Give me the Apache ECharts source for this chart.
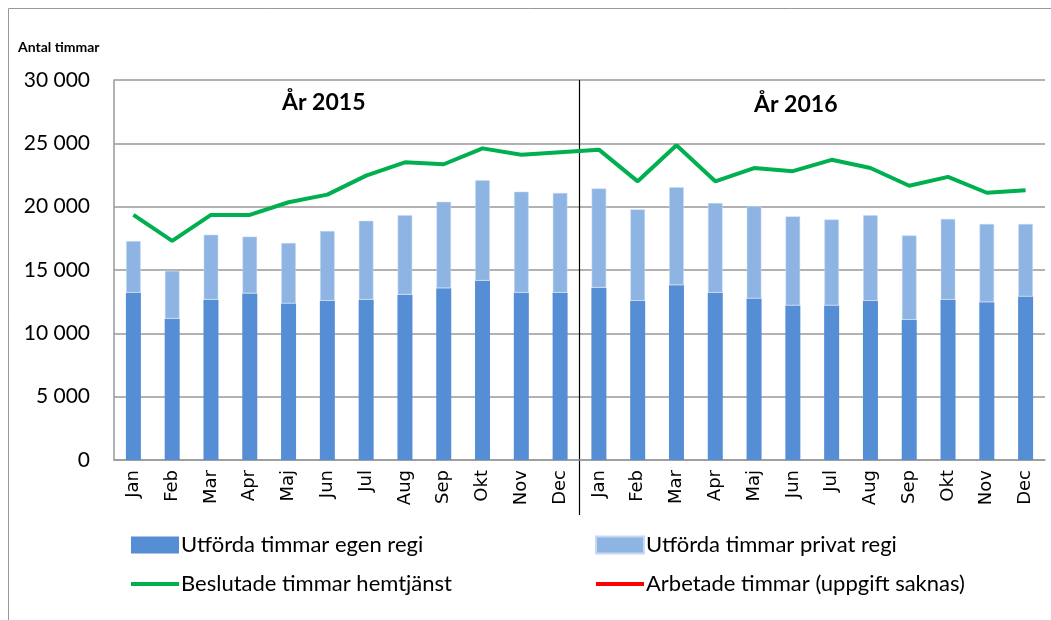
<!DOCTYPE html>
<html>
<head>
<meta charset="utf-8">
<title>Antal timmar hemtjänst</title>
<script src="https://cdn.jsdelivr.net/npm/echarts@6/dist/echarts.min.js"></script>
<style>
    html, body { margin: 0; padding: 0; background: #fff; }
    #main { width: 1051px; height: 620px; }
</style>
</head>
<body>
<div id="main"></div>
<script type="text/javascript">
    // månader, 2015 + 2016
    var months = ['Jan','Feb','Mar','Apr','Maj','Jun','Jul','Aug','Sep','Okt','Nov','Dec',
                  'Jan','Feb','Mar','Apr','Maj','Jun','Jul','Aug','Sep','Okt','Nov','Dec'];

    // utförda timmar egen regi
    var egenRegi = [13200, 11150, 12650, 13150, 12350, 12550, 12650, 13050, 13550, 14150, 13200, 13200,
                    13600, 12550, 13800, 13200, 12750, 12200, 12200, 12550, 11050, 12650, 12450, 12900];

    // utförda timmar totalt (egen + privat), privat räknas ut nedan
    var totalUtford = [17300, 14950, 17800, 17650, 17150, 18100, 18900, 19350, 20400, 22100, 21200, 21100,
                       21450, 19800, 21550, 20300, 20050, 19250, 19000, 19350, 17750, 19050, 18650, 18650];

    // beslutade timmar hemtjänst
    var beslutade = [19350, 17300, 19350, 19350, 20350, 20950, 22450, 23500, 23350, 24600, 24100, 24300,
                     24500, 22000, 24850, 22000, 23050, 22800, 23700, 23050, 21650, 22350, 21100, 21300];

    // arbetade timmar - uppgift saknas
    var arbetade = [];

    var privatRegi = totalUtford.map(function (t, i) { return t - egenRegi[i]; });

    var yTicks = [0, 5000, 10000, 15000, 20000, 25000, 30000];

    var font = 'Lato, "Open Sans", sans-serif';
    var lineIcon = 'path://M0,0H48V4H0Z';

    function fmt(v) {
        return String(v).replace(/\B(?=(\d{3})+(?!\d))/g, ' ');
    }

    var myChart = echarts.init(document.getElementById('main'));

    var option = {
        animation: false,
        backgroundColor: '#fff',
        grid: { left: 114, right: 6, top: 80, bottom: 160 },
        title: [
            { text: 'Antal timmar', left: 13, top: 35,
              textStyle: { fontFamily: font, fontSize: 14, fontWeight: 'bold', color: '#000' } },
            { text: 'År 2015', left: 277, top: 86,
              textStyle: { fontFamily: font, fontSize: 23, fontWeight: 'bold', color: '#000' } },
            { text: 'År 2016', left: 749, top: 88,
              textStyle: { fontFamily: font, fontSize: 23, fontWeight: 'bold', color: '#000' } }
        ],
        legend: [
            {
                orient: 'vertical', left: 126, top: 529, itemGap: 17,
                itemWidth: 48, itemHeight: 17,
                textStyle: { fontFamily: font, fontSize: 22, color: '#000', padding: [0, 0, 0, -3] },
                data: [
                    { name: 'Utförda timmar egen regi', icon: 'rect' },
                    { name: 'Beslutade timmar hemtjänst', icon: lineIcon }
                ]
            },
            {
                orient: 'vertical', left: 590, top: 529, itemGap: 17,
                itemWidth: 48, itemHeight: 17,
                textStyle: { fontFamily: font, fontSize: 22, color: '#000', padding: [0, 0, 0, -3] },
                data: [
                    { name: 'Utförda timmar privat regi', icon: 'rect' },
                    { name: 'Arbetade timmar (uppgift saknas)', icon: lineIcon }
                ]
            }
        ],
        xAxis: {
            type: 'category',
            data: months,
            axisLine: { lineStyle: { color: '#999', width: 1.5 } },
            axisTick: { show: false },
            axisLabel: {
                interval: 0,
                rotate: 90,
                margin: 10,
                fontFamily: '"DejaVu Sans", Verdana, sans-serif',
                fontSize: 18,
                color: '#000'
            }
        },
        yAxis: {
            type: 'value',
            min: 0, max: 30000, interval: 5000,
            axisLine: { show: true, lineStyle: { color: '#999', width: 1.5 } },
            axisTick: { show: false },
            splitLine: { lineStyle: { color: '#999', width: 1.5 } },
            axisLabel: {
                margin: 24,
                fontFamily: font,
                fontSize: 21,
                color: '#000',
                formatter: function (v) { return fmt(v); }
            }
        },
        series: [
            {
                name: 'Utförda timmar egen regi',
                type: 'bar',
                stack: 'utford',
                barWidth: 15,
                itemStyle: { color: '#558ed5' },
                data: egenRegi
            },
            {
                name: 'Utförda timmar privat regi',
                type: 'bar',
                stack: 'utford',
                barWidth: 15,
                itemStyle: { color: '#8eb4e3', borderColor: '#c6d9f1', borderWidth: 1, borderType: 'dotted' },
                data: privatRegi
            },
            {
                name: 'Beslutade timmar hemtjänst',
                type: 'line',
                symbol: 'none',
                lineStyle: { color: '#00b050', width: 4 },
                itemStyle: { color: '#00b050' },
                data: beslutade
            },
            {
                name: 'Arbetade timmar (uppgift saknas)',
                type: 'line',
                symbol: 'none',
                lineStyle: { color: '#ff0000', width: 4 },
                itemStyle: { color: '#ff0000' },
                data: arbetade
            }
        ]
    };

    myChart.setOption(option);

    // skiljelinje mellan åren + ram
    var xDec = myChart.convertToPixel({ xAxisIndex: 0 }, 11);
    var xJan = myChart.convertToPixel({ xAxisIndex: 0 }, 12);
    var xSep = (xDec + xJan) / 2;
    var yTop = myChart.convertToPixel({ yAxisIndex: 0 }, yTicks[yTicks.length - 1]);
    var yBottom = myChart.convertToPixel({ yAxisIndex: 0 }, yTicks[0]);

    myChart.setOption({
        graphic: [
            { type: 'line', shape: { x1: xSep, y1: yTop, x2: xSep, y2: yBottom + 55 },
              style: { stroke: '#000', lineWidth: 1.2 } },
            { type: 'line', shape: { x1: 8.5, y1: 8.5, x2: 1051, y2: 8.5 },
              style: { stroke: '#999', lineWidth: 1 } },
            { type: 'line', shape: { x1: 8.5, y1: 8.5, x2: 8.5, y2: 620 },
              style: { stroke: '#999', lineWidth: 1 } }
        ]
    });
</script>
</body>
</html>
